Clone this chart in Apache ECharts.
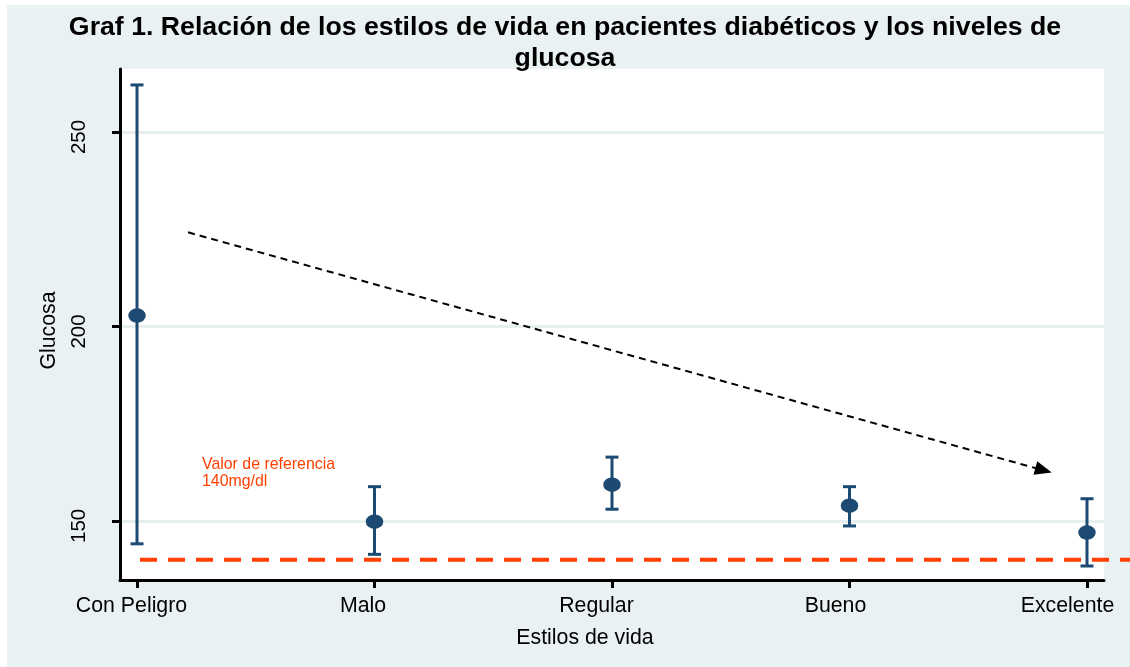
<!DOCTYPE html>
<html>
<head>
<meta charset="utf-8">
<script src="https://cdn.jsdelivr.net/npm/echarts@6/dist/echarts.min.js"></script>
<style>
  html, body { margin: 0; padding: 0; background: #ffffff; }
  #chart { width: 1130px; height: 667px; }
</style>
</head>
<body>
<div id="chart"></div>
<script>
// Lifestyle categories and glucose summary (mean with interval bounds)
const categories = ['Con Peligro', 'Malo', 'Regular', 'Bueno', 'Excelente'];
const means = [202.8, 149.8, 159.3, 153.9, 147.0];
const upper = [262.1, 158.8, 166.4, 158.8, 155.7];
const lower = [144.1, 141.4, 153.0, 148.7, 138.4];
const yTicks = [150, 200, 250];
const refValue = 140;
const refLabel = ['Valor de referencia', '140mg/dl'];
// Trend arrow endpoints in data units [category position, glucose]
const trendStart = [0.215, 224.2];
const trendEnd = [3.817, 163.0];

const FONT = '"Liberation Sans", Arial, sans-serif';
const BAR_COLOR = '#1d4a72';
const REF_COLOR = '#ff4000';
// extra right padding per category label (text sits a little left of its tick)
const LABEL_PAD = [11, 23, 31, 28, 39];

const chart = echarts.init(document.getElementById('chart'), null, { renderer: 'canvas' });

const pointData = means.map((m, i) => [i, m]);
const barData = means.map((m, i) => [i, lower[i], upper[i]]);

const richStyles = {};
categories.forEach((c, i) => {
  richStyles['c' + i] = {
    fontFamily: FONT,
    fontSize: 21.3,
    color: '#000',
    padding: [0, LABEL_PAD[i], 0, 0]
  };
});

const option = {
  animation: false,
  backgroundColor: '#ffffff',
  title: {
    text: 'Graf 1. Relación de los estilos de vida en pacientes diabéticos y los niveles de\nglucosa',
    left: 'center',
    top: 7,
    padding: [5, 12, 5, 5],
    textStyle: {
      fontFamily: FONT,
      fontWeight: 'bold',
      fontSize: 26.7,
      lineHeight: 31,
      color: '#000000'
    }
  },
  grid: {
    left: 120,
    top: 69,
    width: 984,
    height: 511,
    show: true,
    backgroundColor: '#ffffff',
    borderWidth: 0,
    outerBoundsMode: 'none'
  },
  xAxis: {
    type: 'value',
    min: -0.0716,
    max: 4.0716,
    name: 'Estilos de vida',
    nameLocation: 'middle',
    nameGap: 48,
    nameTextStyle: { fontFamily: FONT, fontSize: 21.3, color: '#000', padding: [0, 54, 0, 0] },
    axisLine: { show: true, onZero: false, lineStyle: { color: '#000', width: 3 } },
    axisTick: {
      show: true,
      length: 8,
      customValues: categories.map((c, i) => i),
      lineStyle: { color: '#000', width: 3 }
    },
    axisLabel: {
      show: true,
      margin: 16,
      customValues: categories.map((c, i) => i),
      formatter: v => {
        const i = Math.round(v);
        return categories[i] ? '{c' + i + '|' + categories[i] + '}' : '';
      },
      rich: richStyles,
      fontFamily: FONT,
      fontSize: 21.3,
      color: '#000'
    },
    splitLine: { show: false }
  },
  yAxis: {
    type: 'value',
    min: 134.8,
    max: 266.2,
    name: 'Glucosa',
    nameLocation: 'middle',
    nameGap: 60,
    nameRotate: 90,
    nameTextStyle: { fontFamily: FONT, fontSize: 21.3, color: '#000', padding: [0, 12, 0, 0] },
    axisLine: { show: true, onZero: false, lineStyle: { color: '#000', width: 3 } },
    axisTick: {
      show: true,
      length: 8,
      customValues: yTicks,
      lineStyle: { color: '#000', width: 3 }
    },
    axisLabel: {
      show: true,
      rotate: 90,
      margin: 30,
      customValues: yTicks,
      padding: [0, 10, 0, 0],
      fontFamily: FONT,
      fontSize: 20.5,
      color: '#000'
    },
    splitLine: {
      show: true,
      lineStyle: { color: '#e6eef0', width: 3 }
    }
  },
  series: [
    {
      type: 'custom',
      name: 'intervalo',
      data: barData,
      z: 3,
      renderItem: function (params, api) {
        const x = api.value(0);
        const lo = api.coord([x, api.value(1)]);
        const hi = api.coord([x, api.value(2)]);
        const half = 6.5;
        const style = { stroke: BAR_COLOR, lineWidth: 3 };
        return {
          type: 'group',
          children: [
            { type: 'line', shape: { x1: lo[0], y1: lo[1], x2: hi[0], y2: hi[1] }, style: style },
            { type: 'line', shape: { x1: hi[0] - half, y1: hi[1], x2: hi[0] + half, y2: hi[1] }, style: style },
            { type: 'line', shape: { x1: lo[0] - half, y1: lo[1], x2: lo[0] + half, y2: lo[1] }, style: style }
          ]
        };
      }
    },
    {
      type: 'scatter',
      name: 'media',
      data: pointData,
      symbol: 'circle',
      symbolSize: [17.5, 14.5],
      z: 4,
      itemStyle: { color: BAR_COLOR, opacity: 1 },
      markLine: {
        silent: true,
        symbol: ['none', 'triangle'],
        symbolSize: [14, 17],
        label: { show: false },
        lineStyle: { color: '#000', width: 2, type: [7, 5] },
        itemStyle: { color: '#000' },
        data: [[{ coord: trendStart }, { coord: trendEnd }]]
      }
    }
  ]
};

chart.setOption(option);

// Outer panel, reference line and its note, placed from the axis scales
const refStart = chart.convertToPixel({ xAxisIndex: 0, yAxisIndex: 0 }, [0, refValue]);
chart.setOption({
  graphic: [
    {
      type: 'rect',
      z: -10,
      silent: true,
      shape: { x: 7, y: 5, width: 1123, height: 662 },
      style: { fill: '#eaf1f3' }
    },
    {
      type: 'line',
      z: 50,
      silent: true,
      shape: { x1: refStart[0] + 3, y1: refStart[1], x2: 1130, y2: refStart[1] },
      style: { stroke: REF_COLOR, lineWidth: 4, lineDash: [17, 11] }
    },
    {
      type: 'text',
      z: 50,
      silent: true,
      left: 202,
      top: 456,
      style: {
        text: refLabel.join('\n'),
        fill: REF_COLOR,
        font: '15.9px "Liberation Sans", Arial, sans-serif',
        lineHeight: 17
      }
    }
  ]
});
</script>
</body>
</html>
